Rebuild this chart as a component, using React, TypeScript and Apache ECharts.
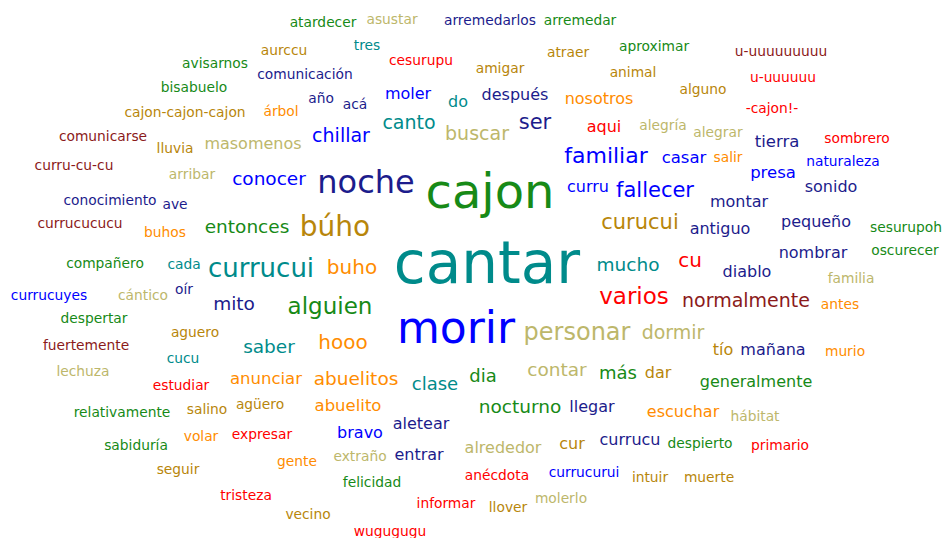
import React, { useEffect, useRef } from 'react';
import * as echarts from 'echarts';

// Word cloud terms
const words: string[] = [
  'cantar', 'cajon', 'morir', 'noche', 'personar', 'búho', 'currucui', 'alguien', 'varios', 'familiar',
  'ser', 'curucui', 'fallecer', 'hooo', 'buho', 'cu', 'dormir', 'chillar', 'canto', 'buscar',
  'normalmente', 'mucho', 'saber', 'mito', 'entonces', 'conocer', 'abuelitos', 'nocturno', 'contar', 'clase',
  'más', 'dia', 'antiguo', 'montar', 'presa', 'tierra', 'sonido', 'pequeño', 'nombrar', 'diablo',
  'mañana', 'tío', 'generalmente', 'escuchar', 'llegar', 'dar', 'anunciar', 'abuelito', 'bravo', 'aletear',
  'entrar', 'currucu', 'cur', 'alrededor', 'casar', 'curru', 'aqui', 'nosotros', 'después', 'do',
  'moler', 'masomenos', 'agüero', 'expresar', 'gente', 'extraño', 'felicidad', 'tristeza', 'vecino', 'informar',
  'wugugugu', 'anécdota', 'currucurui', 'molerlo', 'llover', 'intuir', 'muerte', 'despierto', 'primario', 'hábitat',
  'murio', 'antes', 'familia', 'oscurecer', 'sesurupoh', 'naturaleza', 'sombrero', 'salir', 'alegrar', 'alegría',
  'acá', 'año', 'árbol', 'comunicación', 'aurccu', 'tres', 'cesurupu', 'atardecer', 'asustar', 'arremedarlos',
  'arremedar', 'aproximar', 'atraer', 'amigar', 'animal', 'alguno', 'u-uuuuuuuuu', 'u-uuuuuu', '-cajon!-', 'avisarnos',
  'bisabuelo', 'cajon-cajon-cajon', 'comunicarse', 'lluvia', 'curru-cu-cu', 'arribar', 'conocimiento', 'ave', 'currucucucu', 'buhos',
  'compañero', 'cada', 'currucuyes', 'cántico', 'oír', 'despertar', 'aguero', 'fuertemente', 'cucu', 'lechuza',
  'estudiar', 'relativamente', 'salino', 'volar', 'sabiduría', 'seguir',
];

// Relative weight of each term (rendered as font size)
const weights: number[] = [
  58, 48, 44, 32, 24, 28, 26, 23, 23, 22,
  21, 21, 21, 20, 20, 20, 19, 19, 19, 19,
  19, 18.5, 18.5, 18.5, 18.5, 18.5, 18.5, 18.5, 18.5, 18,
  18, 18, 16, 16, 16.5, 16.5, 16, 16, 16, 16,
  16, 16, 16, 16, 16, 16, 16.5, 16.5, 16, 16,
  16, 16, 16, 16, 16.5, 16, 16, 16, 16, 16,
  16, 16, 13.8, 13.8, 13.8, 13.8, 13.8, 13.8, 13.8, 13.8,
  13.8, 13.8, 13.8, 13.8, 13.8, 13.8, 13.8, 13.8, 13.8, 13.8,
  13.8, 13.8, 13.8, 13.8, 13.8, 13.8, 13.8, 13.8, 13.8, 13.8,
  13.8, 13.8, 13.8, 13.8, 13.8, 13.8, 13.8, 13.8, 13.8, 13.8,
  13.8, 13.8, 13.8, 13.8, 13.8, 13.8, 13.8, 13.8, 13.8, 13.8,
  13.8, 13.8, 13.8, 13.8, 13.8, 13.8, 13.8, 13.8, 13.8, 13.8,
  13.8, 13.8, 13.8, 13.8, 13.8, 13.8, 13.8, 13.8, 13.8, 13.8,
  13.8, 13.8, 13.8, 13.8, 13.8, 13.8,
];

// Cloud layout coordinates (horizontal / vertical)
const layoutX: number[] = [
  487, 490, 456, 366, 577, 335, 261, 330, 634, 606,
  535, 640, 655, 343, 352, 690, 673, 341, 409, 477,
  746, 628, 269, 234, 247, 269, 356, 520, 557, 435,
  618, 483, 720, 739, 773, 777, 831, 816, 813, 747,
  773, 723, 756, 683, 592, 658, 266, 348, 360, 421,
  419, 630, 572, 503, 684, 588, 604, 599, 515, 458,
  408, 253, 260, 262, 297, 360, 372, 246, 308, 446,
  390, 497, 584, 561, 508, 650, 709, 700, 780, 755,
  845, 840, 851, 905, 906, 843, 857, 728, 718, 663,
  355, 321, 281, 305, 284, 367, 421, 323, 392, 490,
  580, 654, 568, 500, 633, 703, 781, 783, 772, 215,
  194, 185, 103, 175, 74, 192, 110, 175, 80, 165,
  105, 184, 49, 143, 184, 94, 195, 86, 183, 83,
  181, 122, 207, 201, 136, 178,
];

const layoutY: number[] = [
  263, 191, 327, 182, 332, 226, 268, 306, 296, 155,
  122, 222, 190, 342, 267, 260, 332, 135, 122, 133,
  300, 264, 346, 303, 226, 178, 378, 406, 369, 383,
  372, 375, 228, 201, 172, 141, 186, 221, 252, 271,
  349, 349, 381, 411, 406, 372, 378, 405, 432, 423,
  454, 439, 443, 447, 157, 186, 126, 98, 94, 101,
  93, 143, 404, 434, 461, 456, 482, 495, 514, 503,
  531, 475, 472, 498, 507, 477, 477, 443, 445, 416,
  351, 304, 278, 250, 227, 161, 138, 157, 132, 125,
  104, 98, 111, 74, 50, 45, 60, 22, 19, 20,
  20, 46, 52, 68, 72, 89, 51, 77, 108, 63,
  87, 112, 136, 148, 165, 174, 200, 204, 223, 232,
  263, 264, 295, 295, 289, 318, 332, 345, 358, 371,
  385, 412, 409, 436, 445, 469,
];

const tones: string[] = [
  'teal', 'green', 'blue', 'navy', 'khaki', 'gold', 'teal', 'green', 'red', 'blue',
  'navy', 'gold', 'blue', 'orange', 'orange', 'red', 'khaki', 'blue', 'teal', 'khaki',
  'darkred', 'teal', 'teal', 'navy', 'green', 'blue', 'orange', 'green', 'khaki', 'teal',
  'green', 'green', 'navy', 'navy', 'blue', 'navy', 'navy', 'navy', 'navy', 'navy',
  'navy', 'gold', 'green', 'orange', 'navy', 'gold', 'orange', 'orange', 'blue', 'navy',
  'navy', 'navy', 'gold', 'khaki', 'blue', 'blue', 'red', 'orange', 'navy', 'teal',
  'blue', 'khaki', 'gold', 'red', 'orange', 'khaki', 'green', 'red', 'gold', 'red',
  'red', 'red', 'blue', 'khaki', 'gold', 'gold', 'gold', 'green', 'red', 'khaki',
  'orange', 'orange', 'khaki', 'green', 'green', 'blue', 'red', 'orange', 'khaki', 'khaki',
  'navy', 'navy', 'orange', 'navy', 'gold', 'teal', 'red', 'green', 'khaki', 'navy',
  'green', 'green', 'gold', 'gold', 'gold', 'gold', 'darkred', 'red', 'red', 'green',
  'green', 'gold', 'darkred', 'gold', 'darkred', 'khaki', 'navy', 'navy', 'darkred', 'orange',
  'green', 'teal', 'blue', 'khaki', 'navy', 'green', 'gold', 'darkred', 'teal', 'khaki',
  'red', 'green', 'gold', 'orange', 'green', 'gold',
];

const palette: Record<string, string> = {
  teal: '#008B8B',
  green: '#178A17',
  blue: '#0000FF',
  navy: '#1C1C8C',
  khaki: '#BDB76B',
  gold: '#B8860B',
  orange: '#FF8C00',
  red: '#FF0000',
  darkred: '#8B1A1A',
};

export default function App() {
  const ref = useRef<HTMLDivElement>(null);
  useEffect(() => {
    if (!ref.current) return;
    const chart = echarts.init(ref.current, null, { renderer: 'svg' });
    const data = words.map((w, i) => ({
      name: w,
      value: [layoutX[i], layoutY[i], weights[i]],
      label: { fontSize: weights[i], color: palette[tones[i]] },
    }));
    chart.setOption({
      animation: false,
      backgroundColor: '#ffffff',
      grid: { left: 0, right: 0, top: 0, bottom: 0 },
      xAxis: { type: 'value', min: 0, max: 944, show: false },
      yAxis: { type: 'value', min: 0, max: 538, inverse: true, show: false },
      series: [
        {
          type: 'scatter',
          data,
          symbolSize: 1,
          silent: true,
          itemStyle: { color: 'rgba(0,0,0,0)', opacity: 1 },
          label: {
            show: true,
            position: 'inside',
            formatter: '{b}',
            fontFamily: 'DejaVu Sans',
            fontWeight: 'normal',
            opacity: 1,
          },
        },
      ],
    });
    return () => chart.dispose();
  }, []);
  return (
    <div
      ref={ref}
      style={{ position: 'fixed', left: 0, top: 0, width: 944, height: 538, background: '#fff' }}
    />
  );
}
